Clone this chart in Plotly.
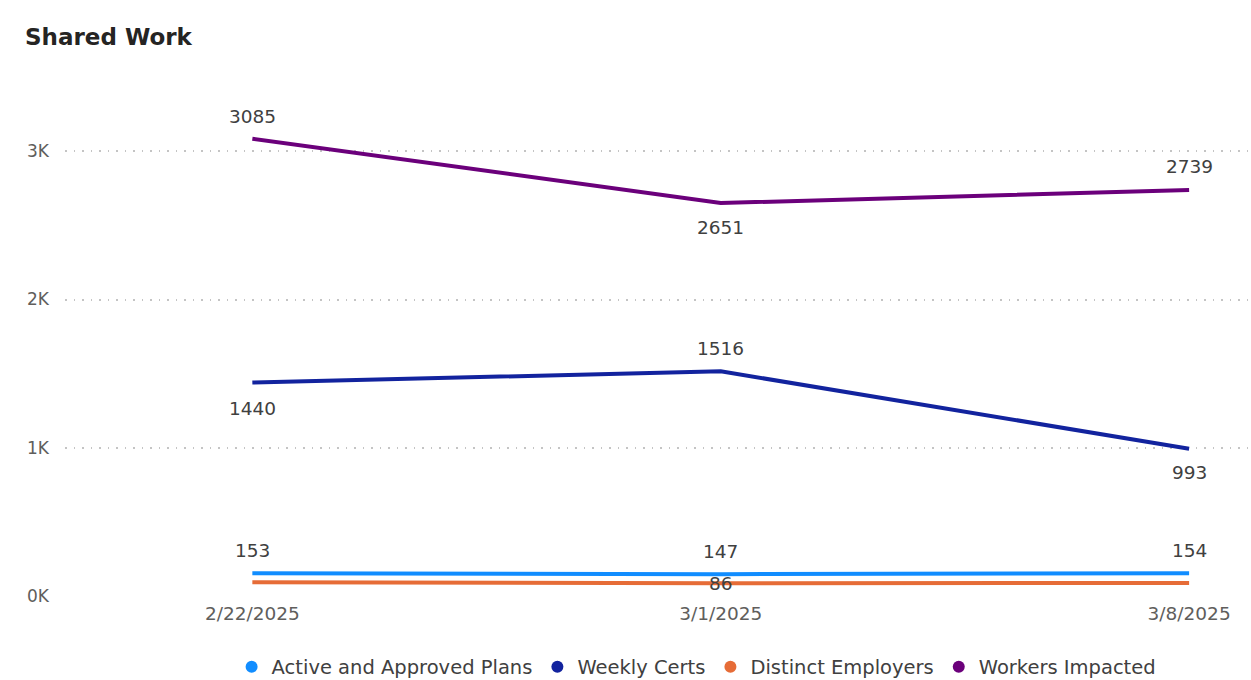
import plotly.graph_objects as go

dates = ["2/22/2025", "3/1/2025", "3/8/2025"]
active_plans = [153, 147, 154]
weekly_certs = [1440, 1516, 993]
distinct_employers = [92, 86, 88]
workers_impacted = [3085, 2651, 2739]

# (name, values, colour, label shifts in px (None = label hidden))
series = [
    ("Active and Approved Plans", active_plans, "#118DFF", [23, 23, 23]),
    ("Weekly Certs", weekly_certs, "#12239E", [-26, 23, -24]),
    ("Distinct Employers", distinct_employers, "#E66C37", [None, 0, None]),
    ("Workers Impacted", workers_impacted, "#6B007B", [22, -24, 23]),
]

LABEL_FONT = dict(family="DejaVu Sans", size=18.5, color="#404040")

fig = go.Figure()
for name, vals, color, shifts in series:
    fig.add_trace(go.Scatter(
        x=dates, y=vals, mode="lines", name=name,
        line=dict(color=color, width=4),
        showlegend=False, hoverinfo="x+y+name",
    ))
for name, vals, color, shifts in series:
    for d, v, s in zip(dates, vals, shifts):
        if s is None:
            continue
        fig.add_annotation(x=d, y=v, text=str(v), showarrow=False, yshift=s,
                           font=LABEL_FONT)
for name, vals, color, shifts in series:
    fig.add_trace(go.Scatter(
        x=[None], y=[None], mode="markers", name=name,
        marker=dict(color=color, size=15, symbol="circle"),
        showlegend=True,
    ))

fig.update_layout(
    width=1251, height=680,
    paper_bgcolor="white", plot_bgcolor="white",
    margin=dict(l=65, r=1, t=92, b=84, autoexpand=False),
    title=dict(text="Shared Work", xref="container", x=0.02, xanchor="left",
               yref="container", y=0.946, yanchor="middle",
               font=dict(family="DejaVu Sans", size=23, color="#252423", weight="bold")),
    font=dict(family="DejaVu Sans", color="#605E5C"),
    xaxis=dict(type="category", range=[-0.4, 2.13], showgrid=False, zeroline=False,
               showline=False, ticks="", tickfont=dict(size=18.5, color="#605E5C"),
               ticklabelstandoff=4),
    yaxis=dict(range=[0, 3400], tickvals=[0, 1000, 2000, 3000],
               ticktext=["0K", "1K", "2K", "3K"], showgrid=True, gridcolor="#C4C4C4",
               griddash="1.5px,7px", gridwidth=1.5, zeroline=False, showline=False,
               ticks="", tickfont=dict(size=17, color="#605E5C"), ticklabelstandoff=15,
               automargin=False),
    legend=dict(orientation="h", x=0.533, xanchor="center", y=-0.141, yanchor="middle",
                font=dict(family="DejaVu Sans", size=19.5, color="#404040"),
                itemsizing="constant", tracegroupgap=0, itemwidth=30),
)

fig.write_html("out.html", config={"displayModeBar": False},
               post_script="document.body.style.margin='0';")
